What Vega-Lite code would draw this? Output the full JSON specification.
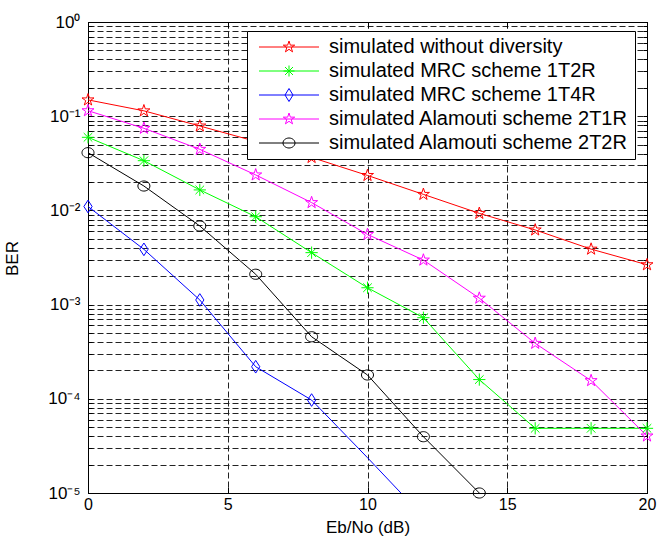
{
  "$schema": "https://vega.github.io/schema/vega-lite/v6.json",
  "width": 559,
  "height": 471,
  "autosize": "none",
  "padding": {"left": 88, "top": 22, "right": 24, "bottom": 47},
  "background": "white",
  "config": {
    "font": "Liberation Sans",
    "view": {"stroke": "black", "strokeWidth": 1},
    "axis": {"domainColor": "black", "tickColor": "black", "labelColor": "black", "titleColor": "black", "titleFontWeight": "normal"}
  },
  "data": {
    "values": [
      {"scheme": "simulated without diversity", "snr": 0, "ber": 0.149},
      {"scheme": "simulated without diversity", "snr": 2, "ber": 0.114},
      {"scheme": "simulated without diversity", "snr": 4, "ber": 0.0787},
      {"scheme": "simulated without diversity", "snr": 6, "ber": 0.054},
      {"scheme": "simulated without diversity", "snr": 8, "ber": 0.0365},
      {"scheme": "simulated without diversity", "snr": 10, "ber": 0.0235},
      {"scheme": "simulated without diversity", "snr": 12, "ber": 0.0148},
      {"scheme": "simulated without diversity", "snr": 14, "ber": 0.0093},
      {"scheme": "simulated without diversity", "snr": 16, "ber": 0.0062},
      {"scheme": "simulated without diversity", "snr": 18, "ber": 0.00388},
      {"scheme": "simulated without diversity", "snr": 20, "ber": 0.00265},
      {"scheme": "simulated MRC scheme 1T2R", "snr": 0, "ber": 0.0597},
      {"scheme": "simulated MRC scheme 1T2R", "snr": 2, "ber": 0.0337},
      {"scheme": "simulated MRC scheme 1T2R", "snr": 4, "ber": 0.0165},
      {"scheme": "simulated MRC scheme 1T2R", "snr": 6, "ber": 0.00857},
      {"scheme": "simulated MRC scheme 1T2R", "snr": 8, "ber": 0.00356},
      {"scheme": "simulated MRC scheme 1T2R", "snr": 10, "ber": 0.00151},
      {"scheme": "simulated MRC scheme 1T2R", "snr": 12, "ber": 0.000726},
      {"scheme": "simulated MRC scheme 1T2R", "snr": 14, "ber": 0.00016},
      {"scheme": "simulated MRC scheme 1T2R", "snr": 16, "ber": 0.0000486},
      {"scheme": "simulated MRC scheme 1T2R", "snr": 18, "ber": 0.0000486},
      {"scheme": "simulated MRC scheme 1T2R", "snr": 20, "ber": 0.0000486},
      {"scheme": "simulated MRC scheme 1T4R", "snr": 0, "ber": 0.011},
      {"scheme": "simulated MRC scheme 1T4R", "snr": 2, "ber": 0.00386},
      {"scheme": "simulated MRC scheme 1T4R", "snr": 4, "ber": 0.00112},
      {"scheme": "simulated MRC scheme 1T4R", "snr": 6, "ber": 0.000219},
      {"scheme": "simulated MRC scheme 1T4R", "snr": 8, "ber": 0.000097},
      {"scheme": "simulated MRC scheme 1T4R", "snr": 10, "ber": 0.0000237},
      {"scheme": "simulated MRC scheme 1T4R", "snr": 12, "ber": 0.0000056},
      {"scheme": "simulated Alamouti scheme 2T1R", "snr": 0, "ber": 0.1144},
      {"scheme": "simulated Alamouti scheme 2T1R", "snr": 2, "ber": 0.0744},
      {"scheme": "simulated Alamouti scheme 2T1R", "snr": 4, "ber": 0.0445},
      {"scheme": "simulated Alamouti scheme 2T1R", "snr": 6, "ber": 0.0238},
      {"scheme": "simulated Alamouti scheme 2T1R", "snr": 8, "ber": 0.0121},
      {"scheme": "simulated Alamouti scheme 2T1R", "snr": 10, "ber": 0.00556},
      {"scheme": "simulated Alamouti scheme 2T1R", "snr": 12, "ber": 0.00297},
      {"scheme": "simulated Alamouti scheme 2T1R", "snr": 14, "ber": 0.00117},
      {"scheme": "simulated Alamouti scheme 2T1R", "snr": 16, "ber": 0.000388},
      {"scheme": "simulated Alamouti scheme 2T1R", "snr": 18, "ber": 0.000156},
      {"scheme": "simulated Alamouti scheme 2T1R", "snr": 20, "ber": 0.0000403},
      {"scheme": "simulated Alamouti scheme 2T2R", "snr": 0, "ber": 0.041},
      {"scheme": "simulated Alamouti scheme 2T2R", "snr": 2, "ber": 0.01815},
      {"scheme": "simulated Alamouti scheme 2T2R", "snr": 4, "ber": 0.00683},
      {"scheme": "simulated Alamouti scheme 2T2R", "snr": 6, "ber": 0.0021},
      {"scheme": "simulated Alamouti scheme 2T2R", "snr": 8, "ber": 0.000456},
      {"scheme": "simulated Alamouti scheme 2T2R", "snr": 10, "ber": 0.000179},
      {"scheme": "simulated Alamouti scheme 2T2R", "snr": 12, "ber": 0.0000396},
      {"scheme": "simulated Alamouti scheme 2T2R", "snr": 14, "ber": 0.00001}
    ]
  },
  "layer": [
    {
      "mark": {"type": "line", "clip": true, "strokeWidth": 1},
      "encoding": {
        "x": {
          "field": "snr", "type": "quantitative",
          "scale": {"domain": [0, 20], "nice": false, "zero": false},
          "axis": {
            "orient": "bottom", "values": [0, 5, 10, 15, 20], "grid": true,
            "gridDash": [6, 3], "gridColor": "#222", "gridWidth": 1,
            "tickSize": -6, "labelFontSize": 16, "labelPadding": 9, "labelFlush": false,
            "title": "Eb/No (dB)", "titleFontSize": 17, "titleY": 34, "titleBaseline": "middle"
          }
        },
        "y": {
          "field": "ber", "type": "quantitative",
          "scale": {"type": "log", "domain": [0.00001, 1], "nice": false},
          "axis": {
            "orient": "left",
            "values": [1, 0.9, 0.8, 0.7, 0.6, 0.5, 0.4, 0.3, 0.2, 0.1, 0.09, 0.08, 0.07, 0.06, 0.05, 0.04, 0.03, 0.02, 0.01, 0.009, 0.008, 0.007, 0.006, 0.005, 0.004, 0.003, 0.002, 0.001, 0.0009, 0.0008, 0.0007, 0.0006, 0.0005, 0.0004, 0.0003, 0.0002, 0.0001, 0.00009, 0.00008, 0.00007, 0.00006, 0.00005, 0.00004, 0.00003, 0.00002, 0.00001],
            "labelExpr": "indexof([1,0.1,0.01,0.001,0.0001,0.00001], datum.value) >= 0 ? ['10⁰','10⁻¹','10⁻²','10⁻³','10⁻⁴','10⁻⁵'][indexof([1,0.1,0.01,0.001,0.0001,0.00001], datum.value)] : ''",
            "labelOverlap": false, "labelFlush": false,
            "grid": true, "gridDash": [6, 3], "gridColor": "#222", "gridWidth": 1,
            "tickSize": -4, "labelFontSize": 17, "labelPadding": 12,
            "title": "BER", "titleFontSize": 17, "titleX": -76, "titleY": 236,
            "titleAngle": 270, "titleAlign": "center", "titleBaseline": "middle"
          }
        },
        "color": {
          "field": "scheme", "type": "nominal",
          "scale": {
            "domain": ["simulated without diversity", "simulated MRC scheme 1T2R", "simulated MRC scheme 1T4R", "simulated Alamouti scheme 2T1R", "simulated Alamouti scheme 2T2R"],
            "range": ["#ff0000", "#00ff00", "#0000ff", "#ff00ff", "#000000"]
          },
          "legend": {
            "orient": "none", "legendX": 159, "legendY": 9,
            "title": null, "padding": 6, "rowPadding": 4,
            "labelFontSize": 20, "labelFont": "Liberation Sans", "labelColor": "black",
            "labelOffset": 30, "symbolOffset": 26, "symbolSize": 100, "symbolStrokeWidth": 1,
            "fillColor": "white", "strokeColor": "black", "labelLimit": 500, "zindex": 1,
            "encode": {
              "symbols": {
                "update": {
                  "shape": {"signal": "datum.value == 'simulated MRC scheme 1T2R' ? 'M-6,0H6M-1.1,0H1.1M0,-1.1V1.1M-0.8,-0.8L0.8,0.8M-0.8,0.8L0.8,-0.8' : datum.value == 'simulated MRC scheme 1T4R' ? 'M-6,0H6M0,-1.3L0.8,0L0,1.3L-0.8,0Z' : datum.value == 'simulated Alamouti scheme 2T2R' ? 'M-6,0H6M1.2,0A1.2,1,0,1,1,-1.2,0A1.2,1,0,1,1,1.2,0Z' : 'M-6,0H6M0,-1.2L0.27,-0.37L1.14,-0.37L0.44,0.14L0.71,0.97L0,0.46L-0.71,0.97L-0.44,0.14L-1.14,-0.37L-0.27,-0.37Z'"},
                  "fill": {"value": "transparent"},
                  "size": {"value": 100},
                  "strokeWidth": {"value": 1}
                }
              }
            }
          }
        }
      }
    },
    {
      "transform": [{"filter": "datum.scheme == 'simulated without diversity' || datum.scheme == 'simulated Alamouti scheme 2T1R'"}],
      "mark": {"type": "point", "filled": false, "size": 160, "strokeWidth": 1, "opacity": 1, "clip": false,
        "shape": "M0,-1L0.2245,-0.309L0.951,-0.309L0.363,0.118L0.588,0.809L0,0.382L-0.588,0.809L-0.363,0.118L-0.951,-0.309L-0.2245,-0.309Z"},
      "encoding": {
        "x": {"field": "snr", "type": "quantitative", "axis": null},
        "y": {"field": "ber", "type": "quantitative", "axis": null},
        "color": {"field": "scheme", "type": "nominal", "legend": null}
      }
    },
    {
      "transform": [{"filter": "datum.scheme == 'simulated MRC scheme 1T2R'"}],
      "mark": {"type": "point", "filled": false, "size": 150, "strokeWidth": 1, "opacity": 1, "clip": false,
        "shape": "M-1,0H1M0,-1V1M-0.7,-0.7L0.7,0.7M-0.7,0.7L0.7,-0.7"},
      "encoding": {
        "x": {"field": "snr", "type": "quantitative", "axis": null},
        "y": {"field": "ber", "type": "quantitative", "axis": null},
        "color": {"field": "scheme", "type": "nominal", "legend": null}
      }
    },
    {
      "transform": [{"filter": "datum.scheme == 'simulated MRC scheme 1T4R' && datum.snr <= 8"}],
      "mark": {"type": "point", "filled": false, "size": 160, "strokeWidth": 1, "opacity": 1, "clip": false,
        "shape": "M0,-1L0.65,0L0,1L-0.65,0Z"},
      "encoding": {
        "x": {"field": "snr", "type": "quantitative", "axis": null},
        "y": {"field": "ber", "type": "quantitative", "axis": null},
        "color": {"field": "scheme", "type": "nominal", "legend": null}
      }
    },
    {
      "transform": [{"filter": "datum.scheme == 'simulated Alamouti scheme 2T2R'"}],
      "mark": {"type": "point", "filled": false, "size": 160, "strokeWidth": 1, "opacity": 1, "clip": false,
        "shape": "M0.95,0A0.95,0.8,0,1,1,-0.95,0A0.95,0.8,0,1,1,0.95,0Z"},
      "encoding": {
        "x": {
          "field": "snr", "type": "quantitative",
          "axis": {"orient": "top", "values": [0, 5, 10, 15, 20], "grid": false, "labels": false, "tickSize": -6, "title": null}
        },
        "y": {
          "field": "ber", "type": "quantitative",
          "axis": {
            "orient": "right",
            "values": [1, 0.9, 0.8, 0.7, 0.6, 0.5, 0.4, 0.3, 0.2, 0.1, 0.09, 0.08, 0.07, 0.06, 0.05, 0.04, 0.03, 0.02, 0.01, 0.009, 0.008, 0.007, 0.006, 0.005, 0.004, 0.003, 0.002, 0.001, 0.0009, 0.0008, 0.0007, 0.0006, 0.0005, 0.0004, 0.0003, 0.0002, 0.0001, 0.00009, 0.00008, 0.00007, 0.00006, 0.00005, 0.00004, 0.00003, 0.00002, 0.00001],
            "grid": false, "labels": false, "tickSize": -4, "title": null
          }
        },
        "color": {"field": "scheme", "type": "nominal", "legend": null}
      }
    }
  ],
  "resolve": {"axis": {"x": "independent", "y": "independent"}}
}
